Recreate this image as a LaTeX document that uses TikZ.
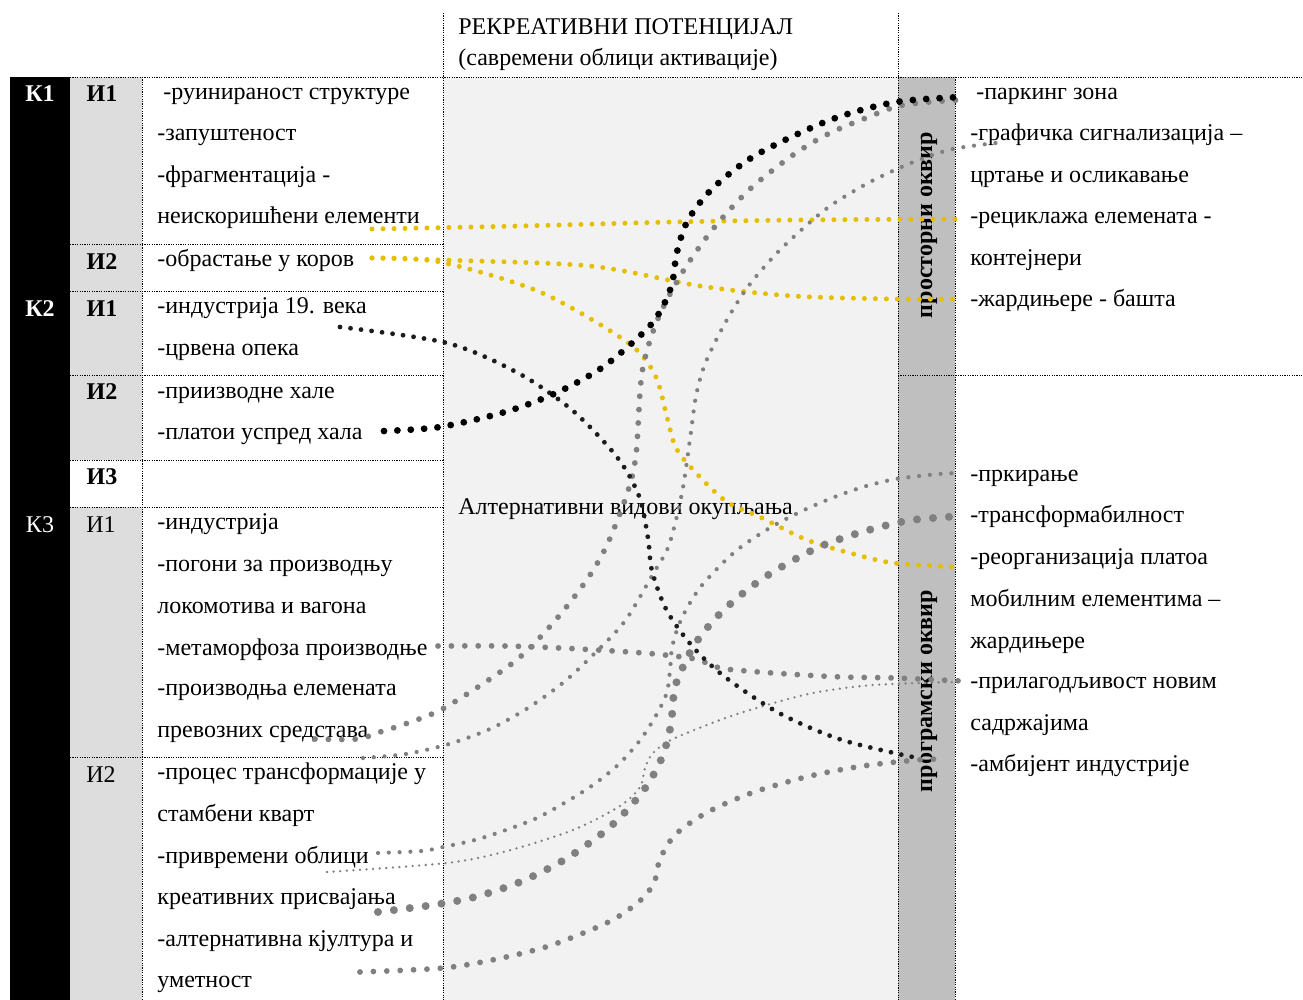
\documentclass[tikz,border=0pt]{standalone}
\usepackage{fontspec}
\setmainfont{Liberation Serif}
\definecolor{kyel}{RGB}{229,190,0}
\definecolor{mgray}{RGB}{128,128,128}
\definecolor{dblack}{RGB}{28,28,28}
\definecolor{panel}{RGB}{242,242,242}
\definecolor{icol}{RGB}{221,221,221}
\definecolor{barg}{RGB}{191,191,191}

\begin{document}
\begin{tikzpicture}[
      x=0.5pt, y=-0.5pt,
      tline/.style = {line width=0.45pt, dash pattern=on 0.6pt off 0.6pt},
      txt/.style   = {anchor=base west, inner sep=0pt, font=\fontsize{12}{14}\selectfont},
      klbl/.style  = {anchor=base, inner sep=0pt, text=white,
                      font=\fontsize{12}{14}\selectfont\bfseries},
      ilbl/.style  = {klbl, text=black},
      vlbl/.style  = {rotate=90, inner sep=0pt, font=\fontsize{12}{14}\selectfont\bfseries},
      dots/.style  = {line cap=round, dash pattern=on 0pt off #1},
      dblk/.style  = {dots=6.7pt, line width=3.4pt, black},
      dblks/.style = {dots=5.3pt, line width=2.4pt, dblack},
      dyel/.style  = {dots=5.5pt, line width=2.5pt, kyel},
      dgm/.style   = {dots=6.7pt, line width=2.9pt, mgray},
      dgs/.style   = {dots=5.4pt, line width=2.1pt, mgray},
      dgt/.style   = {dots=3.3pt, line width=1.3pt, mgray},
      dgl/.style   = {dots=8pt, line width=4pt, mgray},
    ]
    \useasboundingbox (0,0) rectangle (1303,1000);

    % ---- backgrounds ----
    \fill[black] (10,77) rectangle (70,1000);
    \fill[icol]  (70,77) rectangle (142,460);
    \fill[icol]  (70,507) rectangle (142,1000);
    \fill[panel] (443,77) rectangle (898,1000);
    \fill[barg]  (898,77) rectangle (955,1000);

    % ---- table rules ----
    \draw[tline] (10,77) -- (1303,77);
    \draw[tline] (70,244) -- (443,244);
    \draw[tline] (70,291) -- (443,291);
    \draw[tline] (70,375) -- (443,375);
    \draw[tline] (898,375) -- (1303,375);
    \draw[tline] (70,460) -- (443,460);
    \draw[tline] (70,507) -- (443,507);
    \draw[tline] (70,757) -- (443,757);
    \draw[tline] (142,77) -- (142,1000);
    \draw[tline] (443,13) -- (443,1000);
    \draw[tline] (898,13) -- (898,1000);
    \draw[tline] (955,77) -- (955,1000);

    % ---- header ----
    \node[txt] (hdr1) at (458,35) {РЕКРЕАТИВНИ ПОТЕНЦИЈАЛ};
    \node[txt] (hdr2) at (458,66) {(савремени облици активације)};
    \node[txt] (alt)  at (458,515) {Алтернативни видови окупљања};

    % ---- K / I labels ----
    \node[klbl] (k1) at (40,102) {К1};
    \node[klbl] (k2) at (40,317) {К2};
    \node[klbl, font=\fontsize{12}{14}\selectfont] (k3) at (40,532) {К3};
    \node[ilbl] (i11) at (102,102) {И1};
    \node[ilbl] (i12) at (102,270) {И2};
    \node[ilbl] (i21) at (102,317) {И1};
    \node[ilbl] (i22) at (102,400) {И2};
    \node[ilbl] (i23) at (102,485) {И3};
    \node[ilbl, font=\fontsize{12}{14}\selectfont] (i31) at (101,532) {И1};
    \node[ilbl, font=\fontsize{12}{14}\selectfont] (i32) at (101,782) {И2};

    % ---- left column ----
    \node[txt] (ruin)   at (163,100) {-руинираност структуре};
    \node[txt] (zapust) at (157,141) {-запуштеност};
    \node[txt] (fragm)  at (157,183) {-фрагментација -};
    \node[txt] (neisk)  at (157,224) {неискоришћени елементи};
    \node[txt] (obrast) at (157,267) {-обрастање у коров};
    \node[txt] (ind19)  at (157,314) {-индустрија 19. века};
    \node[txt] (opeka)  at (157,356) {-црвена опека};
    \node[txt] (hale)   at (157,399) {-приизводне хале};
    \node[txt] (platoi) at (157,440) {-платои успред хала};
    \node[txt] (indus)  at (157,530) {-индустрија};
    \node[txt] (pogoni) at (157,572) {-погони за производњу};
    \node[txt] (lokom)  at (157,613) {локомотива и вагона};
    \node[txt] (metam)  at (157,655) {-метаморфоза производње};
    \node[txt] (proizv) at (157,696) {-производња елемената};
    \node[txt] (prevoz) at (157,737) {превозних средстава};
    \node[txt] (proces) at (157,779) {-процес трансформације у};
    \node[txt] (stamb)  at (157,821) {стамбени кварт};
    \node[txt] (privr)  at (157,863) {-привремени облици};
    \node[txt] (kreat)  at (157,904) {креативних присвајања};
    \node[txt] (altk)   at (157,946) {-алтернативна кјултура и};
    \node[txt] (umet)   at (157,987) {уметност};

    % ---- right column ----
    \node[vlbl] (prost) at (929,225) {просторни оквир};
    \node[vlbl] (progr) at (929,691) {програмски оквир};

    \node[txt] (park)   at (976,100) {-паркинг зона};
    \node[txt] (graf)   at (970,141) {-графичка сигнализација –};
    \node[txt] (crt)    at (970,183) {цртање и осликавање};
    \node[txt] (recik)  at (970,224) {-рециклажа елемената -};
    \node[txt] (kontej) at (970,266) {контејнери};
    \node[txt] (zard)   at (970,307) {-жардињере - башта};
    \node[txt] (prk)    at (970,481) {-пркирање};
    \node[txt] (transf) at (970,523) {-трансформабилност};
    \node[txt] (reorg)  at (970,565) {-реорганизација платоа};
    \node[txt] (mobil)  at (970,606) {мобилним елементима –};
    \node[txt] (zardb)  at (970,648) {жардињере};
    \node[txt] (prilag) at (970,689) {-прилагодљивост новим};
    \node[txt] (sadrz)  at (970,730) {садржајима};
    \node[txt] (ambij)  at (970,771) {-амбијент индустрије};

    % ---- connector ends ----
    \coordinate (neiskE)  at (372,229);
    \coordinate (obrastE) at (372,258);
    \coordinate (ind19E)  at (340,327);
    \coordinate (platoiE) at (384,431);
    \coordinate (prevozE) at (315,739);
    \coordinate (proizvE) at (363,758);
    \coordinate (metamE)  at (438,646);
    \coordinate (privrE)  at (378,853);
    \coordinate (privrF)  at (327,872);
    \coordinate (kreatE)  at (378,912);
    \coordinate (umetE)   at (360,972);
    \coordinate (parkW)   at (963,97);
    \coordinate (parkV)   at (958,100);
    \coordinate (grafW)   at (1005,142);
    \coordinate (recikW)  at (957,219);
    \coordinate (zardW)   at (957,299);
    \coordinate (prkW)    at (960,473);
    \coordinate (transfW) at (961,516);
    \coordinate (reorgW)  at (957,567);
    \coordinate (prilagW) at (962,681);
    \coordinate (prilagV) at (957,682);
    \coordinate (ambijW)  at (915,757);
    \coordinate (ambijV)  at (945,759);

    % ---- yellow ----
    \draw[dyel] plot[smooth] coordinates {(neiskE) (520,226) (673,222) (800,220) (recikW)};
    \draw[dyel] plot[smooth] coordinates {(obrastE) (440,260) (590,266) (700,286)
      (793,296) (893,299) (zardW)};
    \draw[dyel] plot[smooth] coordinates {(obrastE) (440,262) (540,292) (627,342)
      (655,375) (667,417) (676,448) (697,474) (727,502) (760,517) (807,540)
      (850,553) (893,563) (reorgW)};

    % ---- gray ----
    \draw[dgm] plot[smooth] coordinates {(prevozE) (357,739) (383,731) (408,723)
      (446,707) (514,662) (553,623) (586,581) (607,545) (627,494) (636,455)
      (642,373) (657,321) (682,273) (713,229) (750,189) (793,155) (828,134)
      (866,118) (903,105) (parkV)};
    \draw[dgs] plot[smooth] coordinates {(proizvE) (406,754) (449,744) (490,729)
      (528,708) (564,682) (595,653) (625,621) (653,574) (669,545) (682,493)
      (690,439) (696,396) (705,364) (724,325) (747,288) (776,254) (808,224)
      (833,204) (870,182) (911,163) (953,149) (grafW)};
    \draw[dgs] plot[smooth] coordinates {(privrE) (422,851) (443,847) (475,840)
      (506,830) (537,818) (566,802) (593,785) (619,764) (641,739) (658,712)
      (667,692) (670,670) (672,648) (678,627) (687,608) (699,589) (713,573)
      (729,557) (745,544) (773,526) (802,511) (832,498) (863,487) (896,479)
      (939,474) (prkW)};
    \draw[dgt] plot[smooth] coordinates {(privrF) (447,863) (507,851) (573,830)
      (620,806) (640,787) (645,768) (653,753) (673,739) (720,720) (760,707)
      (813,693) (873,685) (prilagV)};
    \draw[dgl] plot[smooth] coordinates {(kreatE) (433,905) (475,897) (520,882)
      (564,860) (604,832) (628,809) (648,784) (663,755) (671,724) (674,692)
      (679,676) (693,647) (713,621) (736,599) (762,579) (790,562) (819,547)
      (849,536) (880,527) (912,520) (transfW)};
    \draw[dgm] plot[smooth] coordinates {(metamE) (505,646) (560,648) (614,651)
      (655,654) (695,659) (720,668) (747,671) (787,674) (842,677) (896,678)
      (prilagW)};
    \draw[dgm] plot[smooth] coordinates {(umetE) (443,968) (497,959) (549,946)
      (600,926) (624,913) (645,896) (655,880) (660,859) (674,836) (696,819)
      (720,806) (757,791) (810,776) (863,766) (917,760) (ambijV)};

    % ---- black ----
    \draw[dblks] plot[smooth] coordinates {(ind19E) (447,343) (518,373) (572,410)
      (617,457) (639,496) (648,538) (652,571) (667,611) (693,647) (725,677)
      (779,713) (839,739) (903,755) (ambijW)};
    \draw[dblk] plot[smooth] coordinates {(platoiE) (440,427) (505,412) (556,393)
      (603,367) (645,331) (661,310) (672,284) (677,252) (688,220) (713,188)
      (756,155) (830,120) (896,102) (parkW)};
  \end{tikzpicture}
\end{document}
